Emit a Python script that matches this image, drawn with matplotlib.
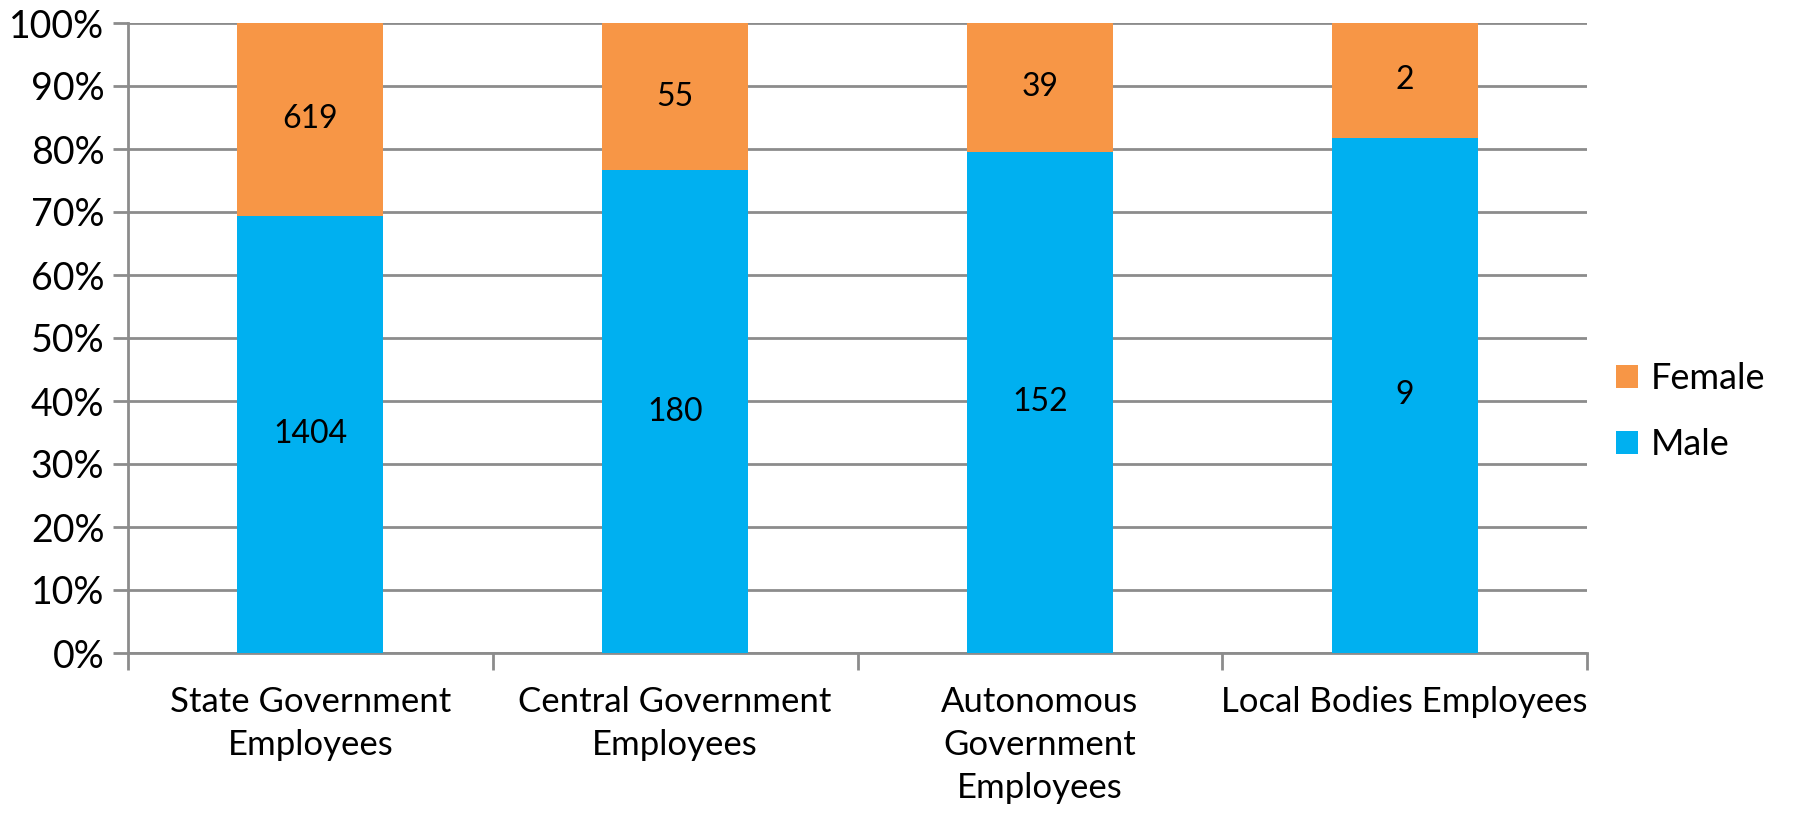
import numpy as np
from matplotlib import pyplot as plt
from matplotlib.ticker import PercentFormatter

plt.rcParams['font.family'] = ['Lato', 'DejaVu Sans']

categories = ['State Government\nEmployees', 'Central Government\nEmployees',
              'Autonomous\nGovernment\nEmployees', 'Local Bodies Employees']
male = np.array([1404, 180, 152, 9])
female = np.array([619, 55, 39, 2])

total = male + female
male_pct = male / total * 100
female_pct = female / total * 100

blue = '#00B0F0'
orange = '#F79646'
grid_col = '#8C8C8C'

fig = plt.figure(figsize=(18.09, 8.13), dpi=100)
ax = fig.add_axes([128 / 1809, 1 - 653 / 813, (1587 - 128) / 1809, (653 - 23) / 813])

x = np.arange(len(categories))
b1 = ax.bar(x, male_pct, width=0.4, color=blue, label='Male', zorder=3)
b2 = ax.bar(x, female_pct, width=0.4, bottom=male_pct, color=orange, label='Female', zorder=3)

for i in range(len(x)):
    ax.text(x[i], male_pct[i] / 2, str(male[i]), ha='center', va='center', fontsize=23, zorder=4)
    ax.text(x[i], male_pct[i] + female_pct[i] / 2, str(female[i]), ha='center', va='center',
            fontsize=23, zorder=4)

ax.set_xlim(-0.5, len(categories) - 0.5)
ax.set_ylim(0, 100)
ax.set_yticks(np.arange(0, 101, 10))
ax.yaxis.set_major_formatter(PercentFormatter(decimals=0))
ax.yaxis.grid(True, color=grid_col, linewidth=2, zorder=0)

ax.set_xticks(np.arange(-0.5, len(categories), 1))
ax.set_xticklabels([])
ax.set_xticks(x, minor=True)
ax.set_xticklabels(categories, minor=True, fontsize=25, linespacing=1.42)
ax.tick_params(axis='x', which='minor', length=0, pad=24)
ax.tick_params(axis='x', which='major', length=12, width=2, color=grid_col)
ax.tick_params(axis='y', length=11, width=2, color=grid_col, labelsize=27, pad=6)

for s in ['top', 'right']:
    ax.spines[s].set_visible(False)
for s in ['left', 'bottom']:
    ax.spines[s].set_color(grid_col)
    ax.spines[s].set_linewidth(2)

ax.legend(handles=[b2, b1], loc='center left', bbox_to_anchor=(1.02, 0.383), frameon=False,
          fontsize=26, handlelength=0.6, handleheight=0.6, handletextpad=0.35, labelspacing=0.9,
          borderaxespad=0, borderpad=0)

fig.savefig('out.png', dpi=100)
